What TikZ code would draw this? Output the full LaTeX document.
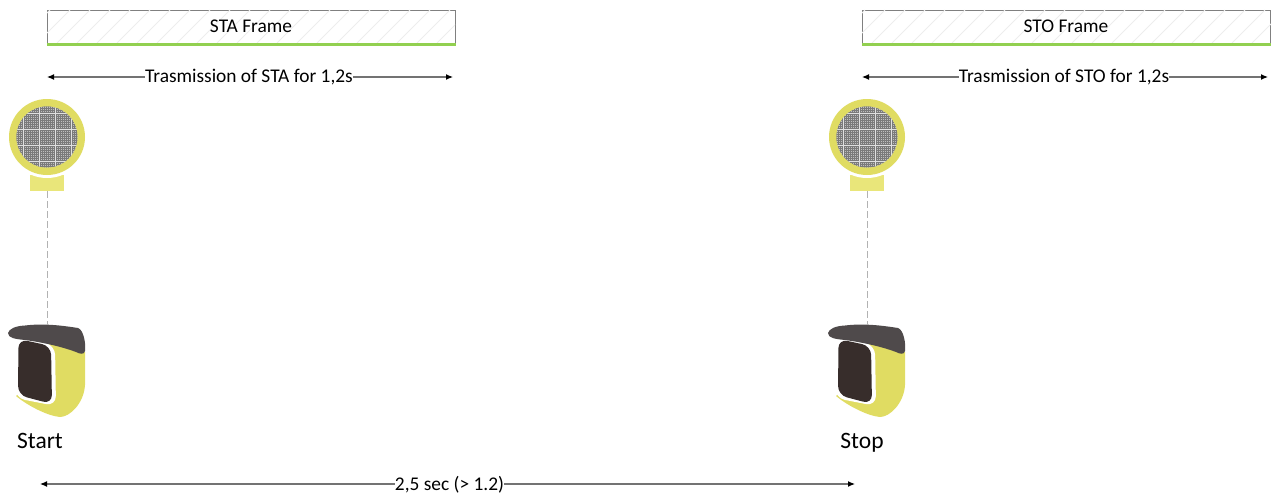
\documentclass[tikz,border=0pt]{standalone}
\usepackage{fontspec}
\setmainfont{Carlito}
\usetikzlibrary{arrows.meta}
\definecolor{ringY}{HTML}{E0DC62}
\definecolor{baseY}{HTML}{E9E67A}
\definecolor{capG}{HTML}{4F4A4B}
\definecolor{scrG}{HTML}{372D2B}
\definecolor{frG}{HTML}{92D050}
\tikzset{
 x=1pt,y=-1pt,
 lbl/.style={font=\fontsize{19.4}{22}\selectfont,inner sep=0pt,text=black},
 biglbl/.style={font=\fontsize{23.5}{27}\selectfont,inner sep=0pt,text=black,anchor=base},
 dimL/.style={draw=black!55,line width=1.2pt,{Latex[length=7pt,width=6pt,black]}-},
 dimR/.style={draw=black!55,line width=1.2pt,-{Latex[length=7pt,width=6pt,black]}},
 framebox/.style={draw=black!50,line width=1.2pt,minimum height=33pt,inner sep=0pt,anchor=north west},
 beacon/.pic={
  \fill[baseY] (30,175) -- (64,175) -- (64,191) -- (30,191) -- cycle;
  \fill[white] (47,137) circle (41);
  \fill[ringY] (47,137) circle (38);
  \begin{scope}
   \clip (47,137) circle (30.5);
   \fill[black!25] (47,137) circle (31);
   \foreach \t in {0,2,...,62} {
    \draw[black!52,line width=.6pt] (16+\t,105) -- (16+\t,169);
    \draw[black!52,line width=.6pt] (15,106+\t) -- (79,106+\t);
   }
   \foreach \t in {7,23,39,55} {
    \draw[black!12,line width=.7pt] (16+\t,105) -- (16+\t,169);
    \draw[black!12,line width=.7pt] (15,106+\t) -- (79,106+\t);
   }
  \end{scope}
  \coordinate (-base) at (47,191);
  \coordinate (-top) at (47,325);
  \fill[ringY] (50,342) .. controls (65,346) and (78,350) .. (85,352) -- (85,385)
    .. controls (84,403) and (70,417) .. (60,417)
    .. controls (48,416) and (28,406) .. (16,396) -- (30,385) -- cycle;
  \fill[white,rounded corners=10pt] (16,336) -- (55,345) -- (56,406) -- (15,398) -- cycle;
  \fill[scrG,rounded corners=9pt] (18.5,339) -- (51,346) -- (52,404) -- (18,395) -- cycle;
  \fill[capG] (8,333) .. controls (9,329) and (15,326) .. (25,325.5)
    .. controls (45,323) and (65,326) .. (78,328)
    .. controls (84,330) and (86,345) .. (85,351)
    .. controls (84,355) and (80,354) .. (76,352)
    .. controls (60,346) and (40,342) .. (25,340)
    .. controls (15,339) and (8,338) .. (8,333) -- cycle;
 },
}
\begin{document}
\begin{tikzpicture}
\useasboundingbox (0,0) rectangle (1271,495);
% frames
\node[framebox,minimum width=408pt] (f1) at (47,10) {};
\node[framebox,minimum width=408pt] (f2) at (862,10) {};
\begin{scope}
 \clip (47,10) rectangle (455,43);
 \foreach \h in {0,20,...,440} \draw[black!7,line width=1pt] (47+\h-30,43) -- (47+\h+3,10);
\end{scope}
\begin{scope}
 \clip (862,10) rectangle (1271,43);
 \foreach \h in {0,20,...,440} \draw[black!7,line width=1pt] (862+\h-30,43) -- (862+\h+3,10);
\end{scope}
\draw[frG,line width=3.2pt] (f1.south west) -- (f1.south east);
\draw[frG,line width=3.2pt] (f2.south west) -- (f2.south east);
\node[lbl] (t1) at (251,26.5) {STA Frame};
\node[lbl] (t2) at (1066,26.5) {STO Frame};
% transmission dims
\coordinate (a1) at (47,77); \coordinate (b1) at (453,77);
\coordinate (a2) at (862,77); \coordinate (b2) at (1268,77);
\node[lbl] (m1) at (249,77.5) {Trasmission of STA for 1,2s};
\node[lbl] (m2) at (1064,77.5) {Trasmission of STO for 1,2s};
\draw[dimL] (a1) -- (a1-|m1.west);
\draw[dimR] (b1-|m1.east) -- (b1);
\draw[dimL] (a2) -- (a2-|m2.west);
\draw[dimR] (b2-|m2.east) -- (b2);
% beacons
\pic (p) at (0,0) {beacon};
\pic[xshift=820pt] (q) at (0,0) {beacon};
\draw[black!30,line width=1pt,dash pattern=on 7pt off 3pt] (p-base) -- (p-top);
\draw[black!30,line width=1pt,dash pattern=on 7pt off 3pt] (q-base) -- (q-top);
\node[biglbl] (s1) at (40,448) {Start};
\node[biglbl] (s2) at (862,448) {Stop};
% bottom
\coordinate (a3) at (40,484); \coordinate (b3) at (855,484);
\node[lbl] (m3) at (449.5,484.5) {2,5 sec (> 1.2)};
\draw[dimL] (a3) -- (a3-|m3.west);
\draw[dimR] (b3-|m3.east) -- (b3);
\end{tikzpicture}
\end{document}
